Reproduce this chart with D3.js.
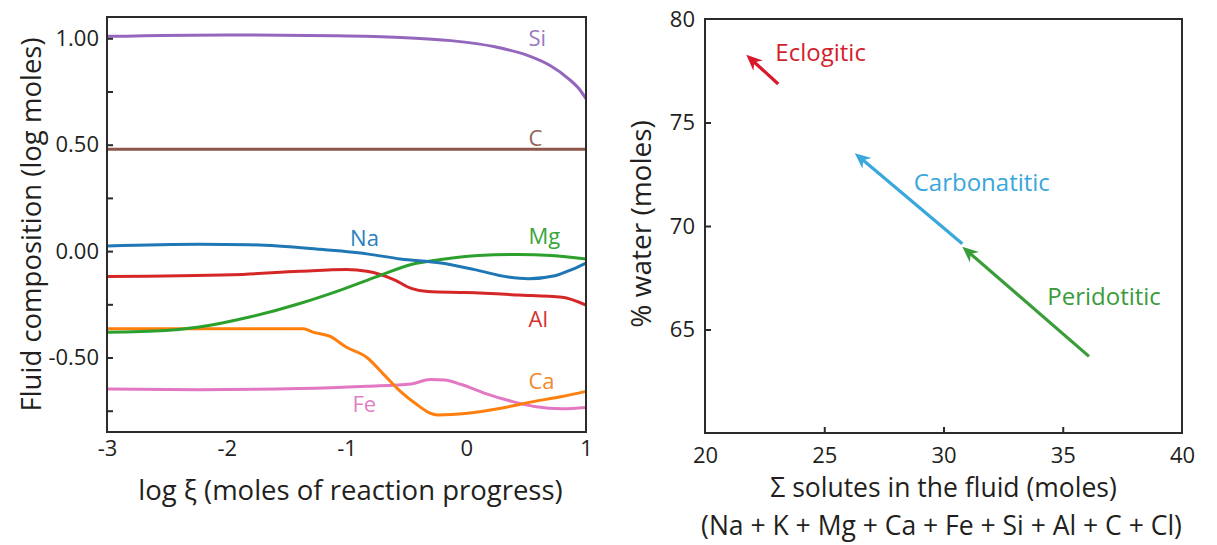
<!DOCTYPE html>
<html><head><meta charset="utf-8">
<script src="https://cdn.jsdelivr.net/npm/d3@7"></script>
<style>
html,body{margin:0;padding:0;background:#fff;}
svg text{font-family:"Open Sans","Noto Sans",sans-serif;}
</style></head>
<body><svg id="c" width="1217" height="545"></svg>
<script>
// ---------- Data: left panel (log moles vs log xi) ----------
const siData = [[-3,1.009],[-2,1.016],[-1.1,1.012],[-0.55,1.004],[-0.13,0.989],[0.24,0.960],[0.5,0.922],[0.7,0.872],[0.85,0.812],[0.95,0.757],[1,0.716]];
const cData  = [[-3,0.478],[-2,0.478],[-1,0.478],[0,0.478],[1,0.478]];
const naData = [[-3,0.024],[-2.23,0.032],[-1.81,0.030],[-1.25,0.010],[-0.83,-0.013],[-0.55,-0.037],[-0.21,-0.056],[0.07,-0.087],[0.35,-0.122],[0.52,-0.130],[0.74,-0.116],[0.88,-0.087],[1,-0.056]];
const mgData = [[-3,-0.381],[-2.51,-0.373],[-2.23,-0.357],[-1.81,-0.31],[-1.39,-0.246],[-1.05,-0.183],[-0.74,-0.119],[-0.46,-0.063],[-0.18,-0.037],[0.10,-0.021],[0.43,-0.016],[0.71,-0.021],[1,-0.037]];
const alData = [[-3,-0.119],[-1.95,-0.111],[-1.39,-0.095],[-1.0,-0.087],[-0.83,-0.095],[-0.6,-0.135],[-0.46,-0.175],[-0.32,-0.19],[0.0,-0.195],[0.43,-0.206],[0.8,-0.217],[1,-0.254]];
const caData = [[-3,-0.365],[-2,-0.365],[-1.36,-0.365],[-1.28,-0.381],[-1.14,-0.40],[-1.0,-0.452],[-0.83,-0.50],[-0.69,-0.579],[-0.55,-0.659],[-0.41,-0.722],[-0.30,-0.762],[-0.24,-0.770],[0.01,-0.762],[0.29,-0.738],[0.57,-0.706],[0.8,-0.683],[1,-0.659]];
const feData = [[-3,-0.648],[-2.23,-0.651],[-1.39,-0.646],[-0.83,-0.635],[-0.46,-0.624],[-0.30,-0.603],[-0.18,-0.606],[-0.04,-0.627],[0.15,-0.667],[0.38,-0.706],[0.57,-0.730],[0.8,-0.741],[1,-0.735]];
const seriesNames = ["Si","C","Na","Mg","Al","Ca","Fe"];
const leftXTicks = [-3,-2,-1,0,1];
const leftYTicks = [-0.75,-0.5,-0.25,0,0.25,0.5,0.75,1.0];
const leftYLabels = [-0.5,0,0.5,1.0];

// ---------- Data: right panel (% water vs sum solutes) ----------
const arrowLabels = ["Eclogitic","Carbonatitic","Peridotitic"];
const arrowX0 = [23.07,30.79,36.10];
const arrowY0 = [76.86,69.14,63.70];
const arrowX1 = [21.73,26.28,30.79];
const arrowY1 = [78.27,73.52,69.00];
const rightXTicks = [20,25,30,35,40];
const rightYTicks = [65,70,75,80];

// ---------- Drawing ----------
const svg = d3.select("#c");
const frameColor = "#2b2b2b";
const textColor = "#231f20";
const hyph = s => s.replace("−","-");
const lineColors = {Si:"#9467bd",C:"#8c564b",Na:"#1f77b4",Mg:"#2ca02c",Al:"#d62728",Ca:"#ff7f0e",Fe:"#e377c2"};
const textColors = {Si:"#9b78c4",C:"#936458",Na:"#2a7fbd",Mg:"#37a537",Al:"#d5302f",Ca:"#f38a2a",Fe:"#e07fc5"};
const seriesData = {Si:siData,C:cData,Na:naData,Mg:mgData,Al:alData,Ca:caData,Fe:feData};

// Left panel scales
const xL = d3.scaleLinear().domain([-3,1]).range([107,586]);
const yL = d3.scaleLinear().domain([-0.85,1.10]).range([432,17]);

const gL = svg.append("g");
const line = d3.line().x(d=>xL(d[0])).y(d=>yL(d[1])).curve(d3.curveMonotoneX);
const drawOrder = ["C","Si","Fe","Ca","Al","Mg","Na"];
drawOrder.forEach(k=>{
  gL.append("path").attr("d",line(seriesData[k])).attr("fill","none")
    .attr("stroke",lineColors[k]).attr("stroke-width",3).attr("stroke-linejoin","round");
});
// series labels (anchored at data coords)
const labelPos = {Si:[0.52,1.0],C:[0.52,0.53],Na:[-0.97,0.06],Mg:[0.52,0.07],Al:[0.52,-0.32],Ca:[0.52,-0.61],Fe:[-0.95,-0.72]};
seriesNames.forEach(k=>{
  gL.append("text").attr("x",xL(labelPos[k][0])).attr("y",yL(labelPos[k][1]))
    .attr("dy","0.36em").attr("font-size",22).attr("fill",textColors[k]).text(k);
});
// frame
gL.append("rect").attr("x",xL(-3)).attr("y",yL(1.10)).attr("width",xL(1)-xL(-3)).attr("height",yL(-0.85)-yL(1.10))
  .attr("fill","none").attr("stroke",frameColor).attr("stroke-width",2);
// y axis
const yAxisL = d3.axisLeft(yL).tickValues(leftYTicks).tickSizeInner(-6).tickSizeOuter(0).tickPadding(8)
  .tickFormat(d=> leftYLabels.some(v=>Math.abs(v-d)<1e-9) ? hyph(d3.format(".2f")(d)) : "");
const ayL = gL.append("g").attr("transform",`translate(${xL(-3)},0)`).call(yAxisL);
// x axis
const xAxisL = d3.axisBottom(xL).tickValues(leftXTicks).tickSize(0).tickPadding(8).tickFormat(d=>hyph(d3.format("d")(d)));
const axL = gL.append("g").attr("transform",`translate(0,${yL(-0.85)})`).call(xAxisL);
[ayL,axL].forEach(a=>{
  a.select(".domain").remove();
  a.selectAll(".tick line").attr("stroke",frameColor).attr("stroke-width",2);
  a.selectAll(".tick text").attr("font-size",22).attr("fill",textColor).style("font-family","'Open Sans',sans-serif");
});
gL.append("text").attr("transform",`translate(31,${(yL(1.10)+yL(-0.85))/2}) rotate(-90)`)
  .attr("text-anchor","middle").attr("dy","0.35em").attr("font-size",27.5).attr("fill",textColor)
  .text("Fluid composition (log moles)");
gL.append("text").attr("x",(xL(-3)+xL(1))/2+4).attr("y",500).attr("text-anchor","middle")
  .attr("font-size",27.5).attr("fill",textColor).text("log ξ (moles of reaction progress)");

// Right panel scales
const xR = d3.scaleLinear().domain([20,40]).range([705,1182]);
const yR = d3.scaleLinear().domain([60,80]).range([433,19]);
const gR = svg.append("g");
gR.append("rect").attr("x",xR(20)).attr("y",yR(80)).attr("width",xR(40)-xR(20)).attr("height",yR(60)-yR(80))
  .attr("fill","none").attr("stroke",frameColor).attr("stroke-width",2);
const yAxisR = d3.axisLeft(yR).tickValues(rightYTicks).tickSizeInner(-6).tickSizeOuter(0).tickPadding(10).tickFormat(d3.format("d"));
const ayR = gR.append("g").attr("transform",`translate(${xR(20)},0)`).call(yAxisR);
const xAxisR = d3.axisBottom(xR).tickValues(rightXTicks).tickSizeInner(-6).tickSizeOuter(0).tickPadding(14).tickFormat(d3.format("d"));
const axR = gR.append("g").attr("transform",`translate(0,${yR(60)})`).call(xAxisR);
[ayR,axR].forEach(a=>{
  a.select(".domain").remove();
  a.selectAll(".tick line").attr("stroke",frameColor).attr("stroke-width",2);
  a.selectAll(".tick text").attr("font-size",22).attr("fill",textColor).style("font-family","'Open Sans',sans-serif");
});
ayR.selectAll(".tick").filter(d=>d===80).select("line").remove();
axR.selectAll(".tick").filter(d=>d===20||d===40).select("line").remove();
axR.selectAll(".tick text").attr("dy","0.71em");

gR.append("text").attr("transform",`translate(641,${yR(70.1)}) rotate(-90)`)
  .attr("text-anchor","middle").attr("dy","0.35em").attr("font-size",28).attr("fill",textColor)
  .text("% water (moles)");
gR.append("text").attr("x",(xR(20)+xR(40))/2).attr("y",497).attr("text-anchor","middle")
  .attr("font-size",26.5).attr("fill",textColor).text("Σ solutes in the fluid (moles)");
gR.append("text").attr("x",(xR(20)+xR(40))/2-2).attr("y",535).attr("text-anchor","middle")
  .attr("font-size",26.5).attr("fill",textColor).text("(Na + K + Mg + Ca + Fe + Si + Al + C + Cl)");

// arrows
const arrowColors = ["#d7192a","#3aa7dd","#3a9d3a"];
const defs = svg.append("defs");
arrowColors.forEach((c,i)=>{
  defs.append("marker").attr("id","ah"+i).attr("markerUnits","userSpaceOnUse")
    .attr("viewBox","-18 -9 20 18").attr("markerWidth",20).attr("markerHeight",18)
    .attr("refX",0).attr("refY",0).attr("orient","auto")
    .append("path").attr("d","M0,0 L-16,-7 L-11,0 L-16,7 Z").attr("fill",c);
});
arrowLabels.forEach((lab,i)=>{
  const x0=xR(arrowX0[i]), y0=yR(arrowY0[i]), x1=xR(arrowX1[i]), y1=yR(arrowY1[i]);
  const len=Math.hypot(x1-x0,y1-y0), ux=(x1-x0)/len, uy=(y1-y0)/len;
  gR.append("line").attr("x1",x0).attr("y1",y0).attr("x2",x1-ux*8).attr("y2",y1-uy*8)
    .attr("stroke",arrowColors[i]).attr("stroke-width",3.2);
  gR.append("path").attr("d",`M${x1-ux*8},${y1-uy*8}L${x1},${y1}`).attr("stroke","none")
    .attr("marker-end",`url(#ah${i})`);
});
const arrowLabelPos = [[22.95,78.4],[28.75,72.1],[34.35,66.6]];
const arrowTextColors = ["#d21f2e","#38a6dc","#3b9b3b"];
arrowLabels.forEach((lab,i)=>{
  gR.append("text").attr("x",xR(arrowLabelPos[i][0])).attr("y",yR(arrowLabelPos[i][1]))
    .attr("dy","0.36em").attr("font-size",24).attr("fill",arrowTextColors[i]).text(lab);
});
</script></body></html>
